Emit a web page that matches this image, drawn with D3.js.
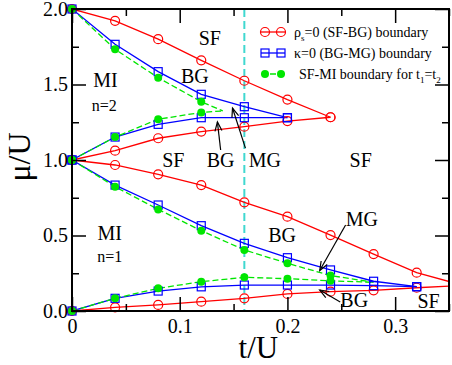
<!DOCTYPE html>
<html>
<head>
  <meta charset="utf-8">
  <title></title>
  <script src="https://cdnjs.cloudflare.com/ajax/libs/d3/7.8.5/d3.min.js"></script>
  <style>
    body { margin: 0; background: #fff; }
    text { font-family: "Liberation Serif", "Times New Roman", serif; }
  </style>
</head>
<body>
<script>
// t/U grid where the boundaries were computed
const tGrid = [0, 0.04, 0.08, 0.12, 0.16, 0.20, 0.24, 0.28, 0.32, 0.36];

// rho_s = 0 (SF-BG) boundary, red
const rhoN2Upper = [2.0, 1.922, 1.80, 1.66, 1.525, 1.40, 1.283];
const rhoN2Lower = [1.0, 1.062, 1.144, 1.188, 1.221, 1.258, 1.283];
const rhoN1Upper = [1.0, 0.967, 0.905, 0.834, 0.720, 0.625, 0.503, 0.377, 0.254, 0.176];
const rhoN1Lower = [0.0, 0.024, 0.040, 0.062, 0.084, 0.113, 0.128, 0.137, 0.154, 0.168];

// kappa = 0 (BG-MG) boundary, blue
const kapN2Upper = [2.0, 1.766, 1.585, 1.435, 1.353, 1.280];
const kapN2Lower = [1.0, 1.152, 1.236, 1.280, 1.280, 1.280];
const kapN1Upper = [1.0, 0.834, 0.702, 0.565, 0.448, 0.353, 0.272, 0.197, 0.161];
const kapN1Lower = [0.0, 0.084, 0.132, 0.160, 0.172, 0.172, 0.172, 0.168, 0.161];

// SF-MI boundary for t1=t2, green (dots + lobe tip)
const sfmiN2Upper = [2.0, 1.733, 1.545, 1.386];
const sfmiN2Lower = [1.0, 1.152, 1.270, 1.315];
const sfmiN2Tip = [0.14, 1.325];
const sfmiN1Upper = [1.0, 0.823, 0.673, 0.532, 0.404, 0.316, 0.235];
const sfmiN1Lower = [0.0, 0.084, 0.150, 0.194, 0.223, 0.214, 0.200];
const sfmiN1Tip = [0.28, 0.19];

const cutT = 0.16;

const xMajor = [0, 0.1, 0.2, 0.3];
const xMinor = [0.05, 0.15, 0.25, 0.35];
const yMajor = [0, 0.5, 1.0, 1.5, 2.0];
const yMinor = [0.25, 0.75, 1.25, 1.75];

const labels = [
  {text: 'SF', t: 0.128, mu: 1.762, size: 20},
  {text: 'BG', t: 0.114, mu: 1.510, size: 20},
  {text: 'MI', t: 0.031, mu: 1.483, size: 20},
  {text: 'n=2', t: 0.030, mu: 1.325, size: 16},
  {text: 'SF', t: 0.094, mu: 0.954, size: 20},
  {text: 'BG', t: 0.138, mu: 0.954, size: 20},
  {text: 'MG', t: 0.179, mu: 0.954, size: 20},
  {text: 'SF', t: 0.268, mu: 0.954, size: 20},
  {text: 'MI', t: 0.035, mu: 0.470, size: 20},
  {text: 'n=1', t: 0.035, mu: 0.325, size: 16},
  {text: 'BG', t: 0.195, mu: 0.459, size: 20},
  {text: 'MG', t: 0.269, mu: 0.563, size: 20},
  {text: 'BG', t: 0.262, mu: 0.026, size: 20},
  {text: 'SF', t: 0.331, mu: 0.020, size: 20}
];

// [tail t, tail mu, head t, head mu]
const arrows = [
  [0.138, 1.066, 0.135, 1.252],
  [0.161, 1.079, 0.149, 1.344],
  [0.254, 0.570, 0.230, 0.268],
  [0.249, 0.060, 0.230, 0.139]
];

const width = 452;
const height = 365;
const margin = {top: 9, right: 3, bottom: 54, left: 72};
const pw = width - margin.left - margin.right;
const ph = height - margin.top - margin.bottom;

const RED = '#ff0000', BLUE = '#0000ff', GREEN = '#00e600', CYAN = '#40d8d0';

const svg = d3.select('body').append('svg')
  .attr('width', width)
  .attr('height', height);

const x = d3.scaleLinear().domain([0, 0.35]).range([margin.left, margin.left + pw]);
const y = d3.scaleLinear().domain([0, 2]).range([margin.top + ph, margin.top]);

svg.append('defs').append('clipPath').attr('id', 'plot')
  .append('rect')
  .attr('x', margin.left).attr('y', margin.top)
  .attr('width', pw).attr('height', ph);

const zip = (vals) => vals.map((v, i) => [tGrid[i], v]);
const line = d3.line().x(d => x(d[0])).y(d => y(d[1]));

// cyan cut line
svg.append('line')
  .attr('x1', x(cutT)).attr('x2', x(cutT))
  .attr('y1', y(2)).attr('y2', y(0))
  .attr('stroke', CYAN).attr('stroke-width', 2)
  .attr('stroke-dasharray', '8,4');

const lines = svg.append('g').attr('clip-path', 'url(#plot)');
const marks = svg.append('g');

// red
[rhoN2Upper, rhoN2Lower, rhoN1Upper, rhoN1Lower].forEach(s => {
  const pts = zip(s);
  lines.append('path').datum(pts)
    .attr('fill', 'none').attr('stroke', RED).attr('stroke-width', 1.3)
    .attr('d', line);
  marks.selectAll(null).data(pts.filter(d => d[0] <= 0.35)).enter()
    .append('circle')
    .attr('cx', d => x(d[0])).attr('cy', d => y(d[1])).attr('r', 4.5)
    .attr('fill', 'none').attr('stroke', RED).attr('stroke-width', 1.2);
});

// blue
[kapN2Upper, kapN2Lower, kapN1Upper, kapN1Lower].forEach(s => {
  const pts = zip(s);
  lines.append('path').datum(pts)
    .attr('fill', 'none').attr('stroke', BLUE).attr('stroke-width', 1.3)
    .attr('d', line);
  marks.selectAll(null).data(pts).enter()
    .append('rect')
    .attr('x', d => x(d[0]) - 4).attr('y', d => y(d[1]) - 4)
    .attr('width', 8).attr('height', 8)
    .attr('fill', 'none').attr('stroke', BLUE).attr('stroke-width', 1.2);
});

// green
[[sfmiN2Upper, sfmiN2Tip], [sfmiN2Lower, sfmiN2Tip],
 [sfmiN1Upper, sfmiN1Tip], [sfmiN1Lower, sfmiN1Tip]].forEach(([s, tip]) => {
  const pts = zip(s);
  lines.append('path').datum(pts.concat([tip]))
    .attr('fill', 'none').attr('stroke', GREEN).attr('stroke-width', 1.3)
    .attr('stroke-dasharray', '6,3')
    .attr('d', line);
  marks.selectAll(null).data(pts).enter()
    .append('circle')
    .attr('cx', d => x(d[0])).attr('cy', d => y(d[1])).attr('r', 4)
    .attr('fill', GREEN);
});

// axes, ticks inward
const fmt = d => d === 0 ? '0' : d3.format('.1f')(d);
const axisStyle = g => {
  g.select('.domain').remove();
  g.selectAll('line').attr('stroke', '#000').attr('stroke-width', 1.5);
  g.selectAll('text').attr('font-size', 20).attr('fill', '#000')
    .style('font-family', '"Liberation Serif", serif');
};

svg.append('g').attr('transform', `translate(0,${margin.top + ph})`)
  .call(d3.axisBottom(x).tickValues(xMajor).tickSize(-14).tickPadding(8).tickFormat(fmt))
  .call(axisStyle);
svg.append('g').attr('transform', `translate(0,${margin.top + ph})`)
  .call(d3.axisBottom(x).tickValues(xMinor).tickSize(-7).tickFormat(''))
  .call(axisStyle);
svg.append('g').attr('transform', `translate(0,${margin.top})`)
  .call(d3.axisTop(x).tickValues(xMajor).tickSize(-14).tickFormat(''))
  .call(axisStyle);
svg.append('g').attr('transform', `translate(0,${margin.top})`)
  .call(d3.axisTop(x).tickValues(xMinor).tickSize(-7).tickFormat(''))
  .call(axisStyle);
svg.append('g').attr('transform', `translate(${margin.left},0)`)
  .call(d3.axisLeft(y).tickValues(yMajor).tickSize(-14).tickPadding(4).tickFormat(d3.format('.1f')))
  .call(axisStyle);
svg.append('g').attr('transform', `translate(${margin.left},0)`)
  .call(d3.axisLeft(y).tickValues(yMinor).tickSize(-7).tickFormat(''))
  .call(axisStyle);
svg.append('g').attr('transform', `translate(${margin.left + pw},0)`)
  .call(d3.axisRight(y).tickValues(yMajor).tickSize(-14).tickFormat(''))
  .call(axisStyle);
svg.append('g').attr('transform', `translate(${margin.left + pw},0)`)
  .call(d3.axisRight(y).tickValues(yMinor).tickSize(-7).tickFormat(''))
  .call(axisStyle);

svg.append('rect')
  .attr('x', margin.left).attr('y', margin.top)
  .attr('width', pw).attr('height', ph)
  .attr('fill', 'none').attr('stroke', '#000').attr('stroke-width', 2);

// axis titles
svg.append('text')
  .attr('x', x(0.173)).attr('y', 358)
  .attr('text-anchor', 'middle').attr('font-size', 31)
  .text('t/U');
svg.append('text')
  .attr('transform', `translate(30,${y(1.02)}) rotate(-90)`)
  .attr('text-anchor', 'middle').attr('font-size', 32)
  .text('μ/U');

// region labels
svg.append('g').selectAll('text').data(labels).enter()
  .append('text')
  .attr('x', d => x(d.t)).attr('y', d => y(d.mu))
  .attr('text-anchor', 'middle')
  .attr('font-size', d => d.size)
  .text(d => d.text);

// arrows
svg.append('defs').append('marker')
  .attr('id', 'head').attr('viewBox', '-10 -5 12 10')
  .attr('markerWidth', 12).attr('markerHeight', 10)
  .attr('markerUnits', 'userSpaceOnUse')
  .attr('orient', 'auto')
  .append('path').attr('d', 'M-9,-3.5 L0,0 L-9,3.5')
  .attr('fill', 'none').attr('stroke', '#000').attr('stroke-width', 1.2);

svg.append('g').selectAll('line').data(arrows).enter()
  .append('line')
  .attr('x1', d => x(d[0])).attr('y1', d => y(d[1]))
  .attr('x2', d => x(d[2])).attr('y2', d => y(d[3]))
  .attr('stroke', '#000').attr('stroke-width', 1.2)
  .attr('marker-end', 'url(#head)');

// legend
const legend = svg.append('g');
const lx1 = 261, lx2 = 285, ltx = 294;

legend.append('line').attr('x1', lx1).attr('x2', lx2).attr('y1', 32).attr('y2', 32)
  .attr('stroke', RED).attr('stroke-width', 1.3);
[265, 281].forEach(cx => legend.append('circle').attr('cx', cx).attr('cy', 32).attr('r', 4.5)
  .attr('fill', 'none').attr('stroke', RED).attr('stroke-width', 1.2));

legend.append('line').attr('x1', lx1).attr('x2', lx2).attr('y1', 53).attr('y2', 53)
  .attr('stroke', BLUE).attr('stroke-width', 1.3);
[265, 281].forEach(cx => legend.append('rect').attr('x', cx - 4).attr('y', 49)
  .attr('width', 8).attr('height', 8)
  .attr('fill', 'none').attr('stroke', BLUE).attr('stroke-width', 1.2));

legend.append('line').attr('x1', lx1).attr('x2', lx2).attr('y1', 74).attr('y2', 74)
  .attr('stroke', GREEN).attr('stroke-width', 1.3).attr('stroke-dasharray', '6,3');
[265, 281].forEach(cx => legend.append('circle').attr('cx', cx).attr('cy', 74).attr('r', 4)
  .attr('fill', GREEN));

const t1 = legend.append('text').attr('x', ltx).attr('y', 37).attr('font-size', 14);
t1.append('tspan').text('ρ');
t1.append('tspan').attr('font-size', 9).attr('dy', 4).text('s');
t1.append('tspan').attr('dy', -4).text('=0 (SF-BG) boundary');

legend.append('text').attr('x', ltx).attr('y', 58).attr('font-size', 14)
  .text('κ=0 (BG-MG) boundary');

const t3 = legend.append('text').attr('x', 299).attr('y', 79).attr('font-size', 14);
t3.append('tspan').text('SF-MI boundary for t');
t3.append('tspan').attr('font-size', 9).attr('dy', 4).text('1');
t3.append('tspan').attr('dy', -4).text('=t');
t3.append('tspan').attr('font-size', 9).attr('dy', 4).text('2');
</script>
</body>
</html>
